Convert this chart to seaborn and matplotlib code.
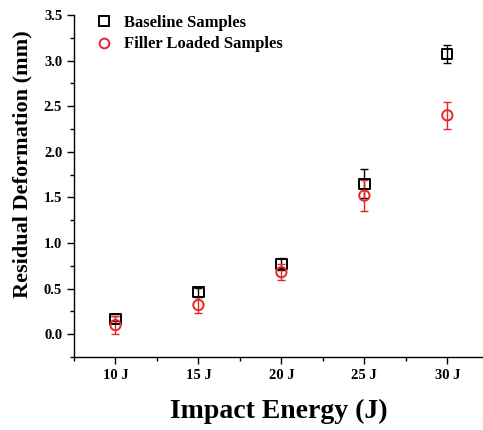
import matplotlib
matplotlib.use("Agg")
import matplotlib.pyplot as plt
import seaborn as sns
import pandas as pd
from matplotlib.ticker import MultipleLocator, FormatStrFormatter
from matplotlib.lines import Line2D

energies = [10, 15, 20, 25, 30]
tick_labels = ["10 J", "15 J", "20 J", "25 J", "30 J"]
baseline = [0.17, 0.46, 0.77, 1.65, 3.07]
baseline_err = [0.03, 0.05, 0.07, 0.16, 0.10]
filler = [0.10, 0.32, 0.68, 1.52, 2.40]
filler_err = [0.10, 0.09, 0.09, 0.17, 0.15]
series_names = ["Baseline Samples", "Filler Loaded Samples"]

sns.set_style("ticks")
plt.rcParams['font.family'] = ['Liberation Serif', 'DejaVu Serif']
plt.rcParams['font.weight'] = 'bold'
for k in ['text.color', 'axes.labelcolor', 'xtick.color', 'ytick.color', 'axes.edgecolor']:
    plt.rcParams[k] = 'black'

RED = '#e8262a'
df = pd.DataFrame({
    "Energy": energies * 2,
    "Value": baseline + filler,
    "Series": [series_names[0]] * 5 + [series_names[1]] * 5,
})

fig = plt.figure(figsize=(4.83, 4.30), dpi=100)
ax = fig.add_axes([74/483, 1 - 357/430, 409/483, (357-15)/430])

ax.errorbar(energies, baseline, yerr=baseline_err, fmt='none', ecolor='black',
            elinewidth=1, capsize=3, capthick=1, zorder=2)
ax.errorbar(energies, filler, yerr=filler_err, fmt='none', ecolor=RED,
            elinewidth=1, capsize=3, capthick=1, zorder=2)

sns.scatterplot(data=df, x="Energy", y="Value", hue="Series", style="Series",
                markers={series_names[0]: "s", series_names[1]: "o"},
                palette={series_names[0]: "black", series_names[1]: RED},
                s=55, ax=ax, zorder=3, legend=False)
for c in ax.collections:
    fc = c.get_facecolors()
    if len(fc):
        c.set_edgecolors(fc)
        c.set_facecolors('none')
        c.set_linewidths(1.4)

ax.set_xlim(7.5, 32.15)
ax.set_ylim(-0.25, 3.5)
ax.set_xticks(energies)
ax.set_xticklabels(tick_labels)
ax.xaxis.set_minor_locator(MultipleLocator(2.5))
ax.yaxis.set_major_locator(MultipleLocator(0.5))
ax.yaxis.set_minor_locator(MultipleLocator(0.25))
ax.yaxis.set_major_formatter(FormatStrFormatter('%.1f'))
ax.tick_params(axis='both', which='major', direction='out', length=5, width=1, labelsize=10.5)
ax.tick_params(axis='both', which='minor', direction='out', length=3, width=1)
for lab in ax.get_xticklabels() + ax.get_yticklabels():
    lab.set_fontweight('bold')

sns.despine(ax=ax)
for sp in ['left', 'bottom']:
    ax.spines[sp].set_linewidth(1)

ax.set_xlabel("Impact Energy (J)", fontsize=20, fontweight='bold', labelpad=12)
ax.set_ylabel("Residual Deformation (mm)", fontsize=16, fontweight='bold', labelpad=8)
ax.yaxis.label.set_y(0.565)

handles = [
    Line2D([], [], marker='s', ls='none', mfc='none', mec='black', mew=1.4, ms=7),
    Line2D([], [], marker='o', ls='none', mfc='none', mec=RED, mew=1.4, ms=7),
]
ax.legend(handles, series_names, loc='upper left',
          frameon=False, prop={'weight': 'bold', 'size': 12},
          bbox_to_anchor=(0.005, 1.045), handletextpad=0.5, labelspacing=0.35,
          handlelength=1.5)

fig.savefig("out.png", dpi=100)
